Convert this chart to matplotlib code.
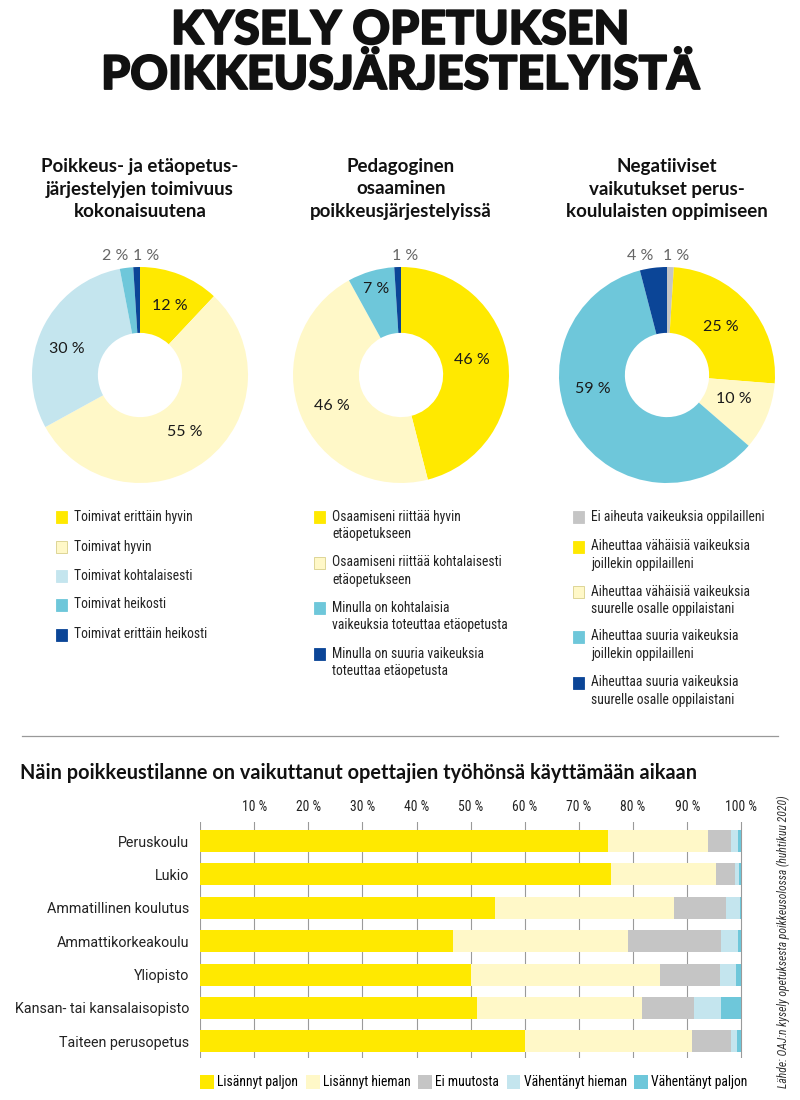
import matplotlib
matplotlib.use("Agg")
import matplotlib.pyplot as plt
import matplotlib.patheffects as pe
import numpy as np
from matplotlib.patches import Rectangle

W, H = 800, 1100

# colours
YELLOW = "#FFE900"
LIGHT_YELLOW = "#FFF8C8"
PALE_BLUE = "#C4E5EE"
MID_BLUE = "#6EC7DA"
DARK_BLUE = "#0B4597"
GRAY = "#C5C5C5"

TITLE_FONT = ["Lato", "DejaVu Sans"]
NARROW_FONT = ["Roboto Condensed", "Open Sans Condensed", "Roboto", "DejaVu Sans"]
PLAIN_FONT = ["Roboto", "DejaVu Sans"]
ROUND_FONT = ["Lato", "DejaVu Sans"]

# --- donut 1: toimivuus ---
toim_labels = ["Toimivat erittäin hyvin", "Toimivat hyvin", "Toimivat kohtalaisesti",
               "Toimivat heikosti", "Toimivat erittäin heikosti"]
toim_values = [12, 55, 30, 2, 1]
toim_colors = [YELLOW, LIGHT_YELLOW, PALE_BLUE, MID_BLUE, DARK_BLUE]

# --- donut 2: pedagoginen osaaminen ---
ped_labels = ["Osaamiseni riittää hyvin\netäopetukseen",
              "Osaamiseni riittää kohtalaisesti\netäopetukseen",
              "Minulla on kohtalaisia\nvaikeuksia toteuttaa etäopetusta",
              "Minulla on suuria vaikeuksia\ntoteuttaa etäopetusta"]
ped_values = [46, 46, 7, 1]
ped_colors = [YELLOW, LIGHT_YELLOW, MID_BLUE, DARK_BLUE]

# --- donut 3: negatiiviset vaikutukset ---
neg_labels = ["Ei aiheuta vaikeuksia oppilailleni",
              "Aiheuttaa vähäisiä vaikeuksia\njoillekin oppilailleni",
              "Aiheuttaa vähäisiä vaikeuksia\nsuurelle osalle oppilaistani",
              "Aiheuttaa suuria vaikeuksia\njoillekin oppilailleni",
              "Aiheuttaa suuria vaikeuksia\nsuurelle osalle oppilaistani"]
neg_values = [1, 25, 10, 59, 4]
neg_colors = [GRAY, YELLOW, LIGHT_YELLOW, MID_BLUE, DARK_BLUE]

# --- bar chart ---
bar_categories = ["Peruskoulu", "Lukio", "Ammatillinen koulutus", "Ammattikorkeakoulu",
                  "Yliopisto", "Kansan- tai kansalaisopisto", "Taiteen perusopetus"]
bar_series = ["Lisännyt paljon", "Lisännyt hieman", "Ei muutosta",
              "Vähentänyt hieman", "Vähentänyt paljon"]
lisannyt_paljon = [75.4, 75.9, 54.4, 46.8, 50.0, 51.2, 60.0]
lisannyt_hieman = [18.5, 19.5, 33.2, 32.3, 34.9, 30.5, 30.8]
ei_muutosta = [4.2, 3.5, 9.6, 17.1, 11.1, 9.6, 7.2]
vahentanyt_hieman = [1.2, 0.7, 2.5, 3.1, 3.0, 5.0, 1.2]
vahentanyt_paljon = [0.7, 0.4, 0.3, 0.7, 1.0, 3.7, 0.8]
bar_colors = [YELLOW, LIGHT_YELLOW, GRAY, PALE_BLUE, MID_BLUE]
x_ticks = [10, 20, 30, 40, 50, 60, 70, 80, 90, 100]


fig = plt.figure(figsize=(W / 100, H / 100), dpi=100)


def px_axes(x0, y0, w, h):
    return fig.add_axes([x0 / W, 1 - (y0 + h) / H, w / W, h / H])


def fx(x):
    return x / W


def fy(y):
    return 1 - y / H


# title (a thin stroke makes the black weight a bit heavier)
heavy = [pe.withStroke(linewidth=1.3, foreground="#111111")]
fig.text(0.5, fy(30), "KYSELY OPETUKSEN", ha="center", va="center",
         fontsize=33.5, fontweight="black", family=TITLE_FONT, color="#111111",
         path_effects=heavy)
fig.text(0.5, fy(75), "POIKKEUSJÄRJESTELYISTÄ", ha="center", va="center",
         fontsize=33.5, fontweight="black", family=TITLE_FONT, color="#111111",
         path_effects=heavy)


def donut(cx, title, values, colors, label_pos):
    R = 108
    cy = 375
    ax = px_axes(cx - 1.35 * R, cy - 1.35 * R, 2.7 * R, 2.7 * R)
    wedges, _ = ax.pie(values, colors=colors, startangle=90, counterclock=False,
                       radius=1, wedgeprops=dict(width=0.61, linewidth=0))
    ax.set_xlim(-1.35, 1.35)
    ax.set_ylim(-1.35, 1.35)
    ax.set_aspect("equal")
    ax.axis("off")
    for w, v, (r, dang, dx) in zip(wedges, values, label_pos):
        ang = np.deg2rad((w.theta1 + w.theta2) / 2 + dang)
        outside = r > 1
        x = r * np.cos(ang) + dx
        y = 1.1 if outside else r * np.sin(ang)
        ax.text(x, y, f"{v} %", ha="center", va="center", fontsize=11.5,
                family=ROUND_FONT, color="#666666" if outside else "#1a1a1a")
    fig.text(fx(cx), fy(189), title, ha="center", va="center", fontsize=13.5,
             fontweight="bold", family=ROUND_FONT, color="#111111", linespacing=1.42)


donut(140, "Poikkeus- ja etäopetus-\njärjestelyjen toimivuus\nkokonaisuutena",
      toim_values, toim_colors,
      [(0.70, -2, 0), (0.67, 0, 0), (0.72, 6, 0), (1.1, 0, -0.09), (1.1, 0, 0.09)])
donut(401, "Pedagoginen\nosaaminen\npoikkeusjärjestelyissä",
      ped_values, ped_colors,
      [(0.67, 5, 0), (0.70, 3, 0), (0.83, 0, 0), (1.1, 0, 0.07)])
donut(667, "Negatiiviset\nvaikutukset perus-\nkoululaisten oppimiseen",
      neg_values, neg_colors,
      [(1.1, 0, 0.05), (0.67, 1, 0), (0.66, 3, 0), (0.70, -21, 0), (1.1, 0, -0.11)])


# donut legends
def legend_column(x_sq, labels, colors, rows):
    for lab, col, y in zip(labels, colors, rows):
        ec = "#d8cf8a" if col == LIGHT_YELLOW else col
        fig.patches.append(Rectangle((fx(x_sq), fy(y + 6)), 11 / W, 12 / H,
                                     transform=fig.transFigure, facecolor=col,
                                     edgecolor=ec, linewidth=0.6))
        fig.text(fx(x_sq + 18), fy(y - 7.5), lab, ha="left", va="top", fontsize=9.8,
                 family=NARROW_FONT, color="#222222", linespacing=1.3)


legend_column(56, toim_labels, toim_colors, [517, 547, 576, 605, 635])
legend_column(314, ped_labels, ped_colors, [517, 563, 608, 654])
legend_column(573, neg_labels, neg_colors, [517, 547, 592, 637, 683])

# separator
fig.add_artist(plt.Line2D([fx(22), fx(778)], [fy(736), fy(736)],
                          transform=fig.transFigure, color="#999999", linewidth=0.9))

fig.text(fx(20), fy(773), "Näin poikkeustilanne on vaikuttanut opettajien työhönsä käyttämään aikaan",
         ha="left", va="center", fontsize=14.3, fontweight="bold", family=ROUND_FONT,
         color="#111111")

# stacked bars
ax = px_axes(200, 822, 543, 236)
series = [lisannyt_paljon, lisannyt_hieman, ei_muutosta, vahentanyt_hieman, vahentanyt_paljon]
y = np.arange(len(bar_categories))
left = np.zeros(len(bar_categories))
for vals, col, name in zip(series, bar_colors, bar_series):
    ax.barh(y, vals, left=left, height=0.66, color=col, label=name, zorder=2, linewidth=0)
    left += np.array(vals)
ax.set_xlim(0, 100.3)
ax.set_ylim(6.5, -0.57)
ax.set_yticks(y)
ax.set_yticklabels(bar_categories, family=PLAIN_FONT, fontsize=10.3)
ax.set_xticks(x_ticks)
ax.set_xticklabels([f"{t} %" for t in x_ticks], family=NARROW_FONT, fontsize=9.8)
ax.xaxis.tick_top()
ax.tick_params(axis="both", length=0, colors="#222222")
ax.tick_params(axis="y", pad=8)
ax.tick_params(axis="x", pad=6)
for t in x_ticks:
    ax.axvline(t, color="#9a9a9a", linewidth=0.8, zorder=1)
ax.axvline(0, color="#9a9a9a", linewidth=0.8, zorder=1)
for s in ax.spines.values():
    s.set_visible(False)

handles = [Rectangle((0, 0), 1, 1, facecolor=c, edgecolor="none") for c in bar_colors]
fig.legend(handles, bar_series, loc="center", bbox_to_anchor=(fx(474), fy(1082)),
           ncol=5, frameon=False, handlelength=1.0, handleheight=1.2, handletextpad=0.25,
           columnspacing=0.55, prop={"family": NARROW_FONT, "size": 9.8})

fig.text(fx(783), fy(942), "Lähde: OAJ:n kysely opetuksesta poikkeusolossa (huhtikuu 2020)",
         rotation=90, ha="center", va="center", fontsize=8.4, style="italic",
         family=NARROW_FONT, color="#333333")

fig.savefig("out.png", dpi=100)
